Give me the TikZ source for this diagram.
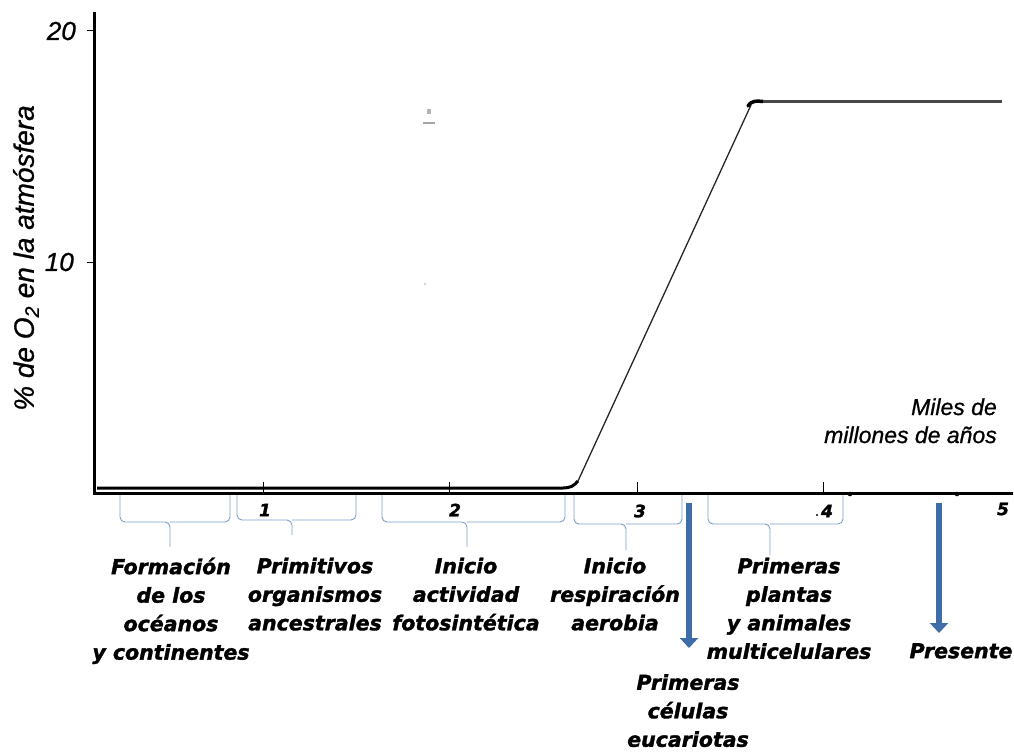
\documentclass[tikz,border=0pt]{standalone}
\usepackage{fontspec}
\setmainfont{Liberation Sans}
\newfontfamily\blab[FakeBold=1.6, BoldItalicFont={DejaVu Sans Bold Oblique}]{DejaVu Sans}
\newfontfamily\semi[FakeBold=0.9]{Liberation Sans}
\usetikzlibrary{arrows.meta}
\definecolor{brc}{HTML}{7C9CCB}
\definecolor{arr}{HTML}{3F6DA8}
\begin{document}
\begin{tikzpicture}[x=1pt,y=-1pt,
  axis/.style={line width=3pt},
  tick/.style={line width=1pt},
  brace/.style={draw=brc, line width=0.9pt, rounded corners=5pt},
  lbl/.style={font=\blab\fontsize{20.5}{28.5}\selectfont\bfseries\itshape, align=center, anchor=north, inner sep=0pt},
  tlbl/.style={font=\blab\fontsize{17}{20}\selectfont\bfseries\itshape, inner sep=0pt},
  ynum/.style={font=\semi\fontsize{26}{28}\selectfont\itshape, inner sep=0pt, anchor=east},
  ylbl/.style={font=\semi\fontsize{28}{30}\selectfont\itshape, inner sep=0pt},
  unit/.style={font=\semi\fontsize{23}{28}\selectfont\itshape, inner sep=0pt, align=right},
  bigarrow/.style={draw=arr, line width=6pt, -{Triangle[width=18pt,length=10pt]}},
]
\useasboundingbox (0,0) rectangle (1014,753);

% axes
\coordinate (ytop) at (94,12);
\coordinate (O) at (94,493.5);
\coordinate (xend) at (1013,493.5);
\draw[axis] (ytop) -- (O) -- (xend);

% y ticks and labels
\draw[tick] (87,30) -- (94,30);
\draw[tick] (87,262) -- (94,262);
\node[ynum] (y20) at (76,31) {20};
\node[ynum] (y10) at (74,262) {10};
\node[ylbl, rotate=90] (ylab) at (26,258) {\% de O\textsubscript{2} en la atmósfera};

% x ticks
\foreach \xx in {263,449,637,823} \draw[tick] (\xx,493.5) -- (\xx,482);
\fill (850,494) circle (2.3);
\fill (957,494) circle (2.3);
\node[tlbl] (x1) at (265,510) {1};
\node[tlbl] (x2) at (455,510) {2};
\node[tlbl] (x3) at (640,511) {3};
\node[tlbl] (x4) at (827,511) {4};
\fill (817,515) circle (1.1);
\node[tlbl] (x5) at (1003,509) {5};
\node[unit, anchor=base east] (units) at (997,443) {Miles de\\millones de años};

% curve
\draw[line width=3pt] (97,488) -- (563,488) .. controls (570,488) and (574,486) .. (578,481);
\draw[line width=1.3pt, black!85] (578,481) -- (751,105);
\draw[line width=3.5pt, line cap=round] (748,106) .. controls (752,100) and (757,101) .. (763,101.5);
\draw[line width=2.2pt, black!72] (763,101.5) -- (1002,101.5);

% stray marks
\fill[gray!60] (427,109) rectangle (431,114);
\fill[gray!70] (423,121.5) rectangle (435,123.5);
\fill[gray!70] (425,284) circle (0.9);

% braces
\coordinate (b1) at (170,547);
\coordinate (b2) at (292,535);
\coordinate (b3) at (467,547);
\coordinate (b4) at (626,550);
\coordinate (b5) at (770,555);
\draw[brace] (120,495) |- (170,522) -- (b1);
\draw[brace] (230,495) |- (170,522);
\draw[brace] (237,495) |- (292,520) -- (b2);
\draw[brace] (356,495) |- (292,520);
\draw[brace] (382,495) |- (467,522) -- (b3);
\draw[brace] (565,495) |- (467,522);
\draw[brace] (574,495) |- (626,524) -- (b4);
\draw[brace] (682,495) |- (626,524);
\draw[brace] (708,495) |- (770,524) -- (b5);
\draw[brace] (843,495) |- (770,524);

% labels
\node[lbl] (l1) at (171,557.5) {Formación\\de los\\océanos\\y continentes};
\node[lbl] (l2) at (315,557.5) {Primitivos\\organismos\\ancestrales};
\node[lbl] (l3) at (466,557.5) {Inicio\\actividad\\fotosintética};
\node[lbl] (l4) at (615,557.5) {Inicio\\respiración\\aerobia};
\node[lbl] (l5) at (789,557.5) {Primeras\\plantas\\y animales\\multicelulares};
\node[lbl] (l6) at (961,643) {Presente};
\node[lbl] (l7) at (688,674) {Primeras\\células\\eucariotas};

% arrows
\coordinate (a1s) at (689,503);
\coordinate (a1e) at (689,648);
\coordinate (a2s) at (939,503);
\coordinate (a2e) at (939,633);
\draw[bigarrow] (a1s) -- (a1e);
\draw[bigarrow] (a2s) -- (a2e);
\end{tikzpicture}
\end{document}
